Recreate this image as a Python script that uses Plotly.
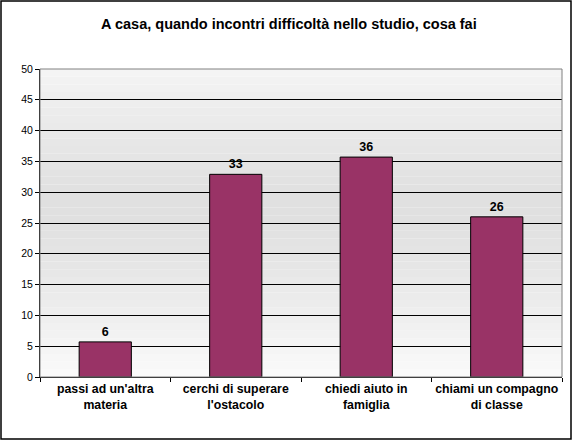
import plotly.graph_objects as go

categories = ["passi ad un'altra<br>materia", "cerchi di superare<br>l'ostacolo",
              "chiedi aiuto in<br>famiglia", "chiami un compagno<br>di classe"]
values = [5.7, 32.9, 35.7, 26.0]

fig = go.Figure()

fig.add_trace(go.Bar(
    x=categories, y=values,
    marker=dict(color='#993366', line=dict(color='black', width=1)),
    texttemplate='<b>%{y:.0f}</b>', textposition='outside',
    textfont=dict(family='Liberation Sans', size=12.5, color='black'),
    width=0.4, cliponaxis=False
))

# gradiente dello sfondo (bianco -> grigio -> bianco)
n = 40
for i in range(n):
    t = (i + 0.5) / n
    d = abs(t - 0.55) / 0.55
    g = int(224 + (251 - 224) * min(d, 1) ** 1.3)
    fig.add_shape(type='rect', xref='paper', yref='paper',
                  x0=0, x1=1, y0=i / n, y1=(i + 1) / n,
                  fillcolor=f'rgb({g},{g},{g})', line_width=0, layer='below')

# bordo area grafico
fig.add_shape(type='rect', xref='paper', yref='paper', x0=0, x1=1, y0=0, y1=1,
              line=dict(color='#808080', width=1))
# bordo esterno
fig.add_shape(type='rect', xref='paper', yref='paper',
              x0=-39/522, x1=1 + 9/522, y0=-62/308, y1=1 + 68/308,
              line=dict(color='black', width=1.5))

fig.update_layout(
    width=572, height=440,
    margin=dict(l=40, r=10, t=69, b=63),
    paper_bgcolor='white', plot_bgcolor='rgba(0,0,0,0)',
    font=dict(family='Liberation Sans', color='black'),
    title=dict(text='<b>A casa, quando incontri difficoltà nello studio, cosa fai</b>',
               x=0.505, xanchor='center', y=0.945, yanchor='middle',
               font=dict(size=14.5)),
    showlegend=False, bargap=0.6,
    xaxis=dict(showline=True, linecolor='black', ticks='outside', ticklen=4,
               tickson='boundaries', tickcolor='black', automargin=False,
               tickangle=0, tickfont=dict(size=12.3),
               tickprefix='<b>', ticksuffix='</b>'),
    yaxis=dict(range=[0, 50], dtick=5, showgrid=True, gridcolor='black', gridwidth=1,
               showline=True, linecolor='black', ticks='outside', ticklen=4,
               tickcolor='black', tickfont=dict(size=10.5), zeroline=False,
               automargin=False),
)

fig.write_html("out.html", config={'displayModeBar': False},
               post_script="document.body.style.margin='0';")
